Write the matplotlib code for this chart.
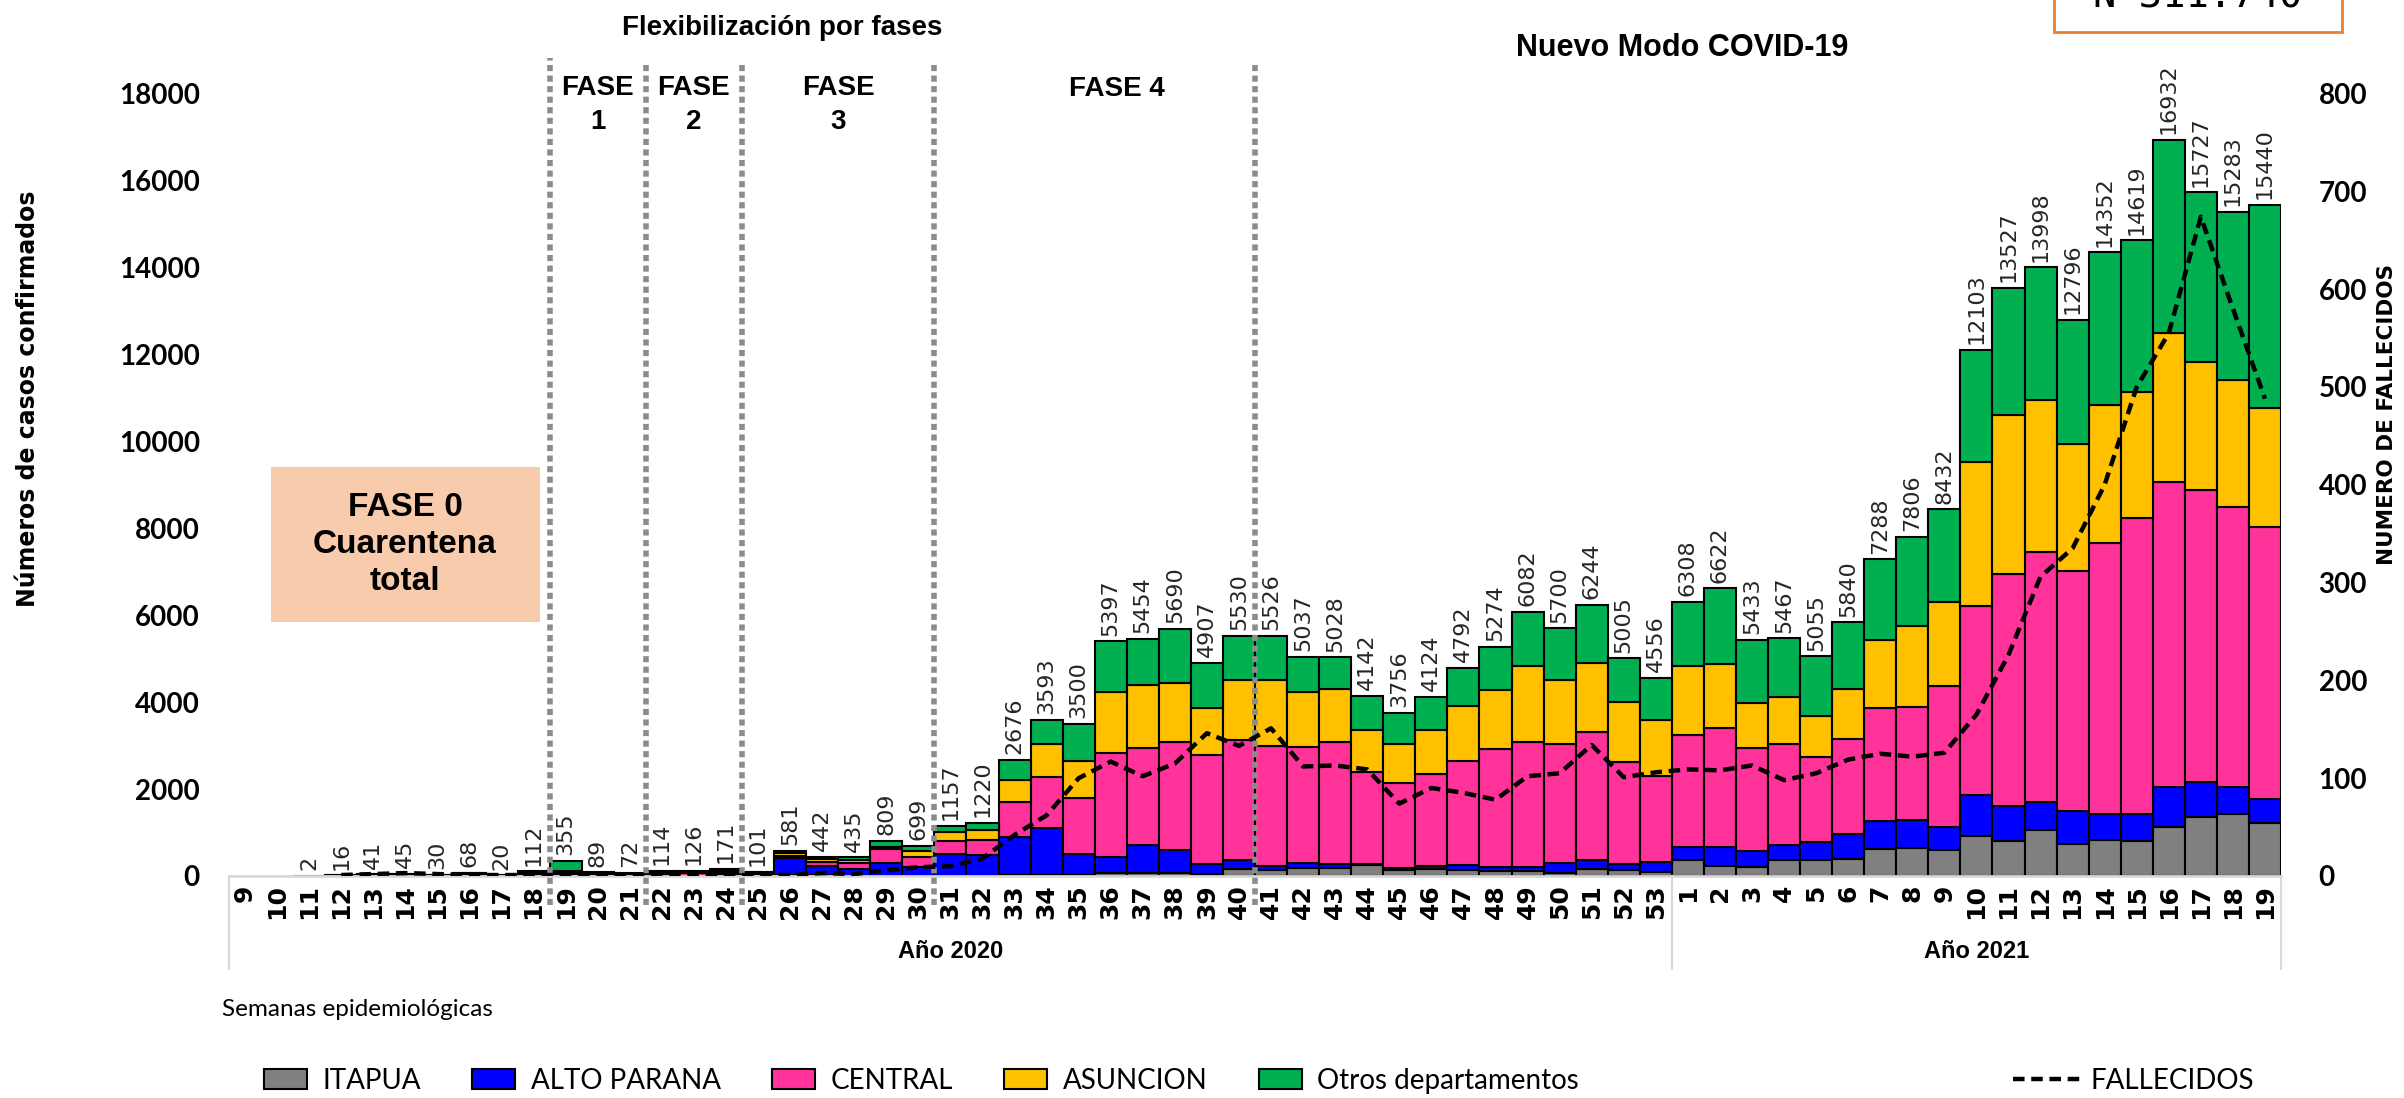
import matplotlib.pyplot as plt
import numpy as np
from matplotlib.patches import Patch, Rectangle
from matplotlib.lines import Line2D

# Semanas epidemiológicas (2020: 9-53, 2021: 1-19)
semanas = [9, 10, 11, 12, 13, 14, 15, 16, 17, 18, 19, 20, 21, 22, 23, 24, 25,
           26, 27, 28, 29, 30, 31, 32, 33, 34, 35, 36, 37, 38, 39, 40, 41, 42,
           43, 44, 45, 46, 47, 48, 49, 50, 51, 52, 53,
           1, 2, 3, 4, 5, 6, 7, 8, 9, 10, 11, 12, 13, 14, 15, 16, 17, 18, 19]

itapua = [0, 0, 0, 0, 1, 1, 0, 1, 0, 2, 5, 2, 1, 2, 2, 3, 2,
          13, 17, 5, 10, 5, 10, 10, 20, 20, 20, 60, 77, 77, 46, 153, 138, 176,
          192, 253, 138, 153, 138, 123, 123, 61, 153, 138, 100,
          359, 231, 214, 359, 359, 385, 616, 642, 590, 915, 804, 1069, 727, 830,
          804, 1129, 1360, 1429, 1215]
alto_parana = [0, 0, 0, 0, 1, 2, 1, 3, 1, 5, 10, 4, 4, 6, 8, 10, 10,
               398, 215, 150, 285, 194, 491, 468, 885, 1077, 486, 385, 636, 521,
               230, 215, 92, 131, 84, 23, 54, 77, 115, 76, 76, 230, 215, 130, 230,
               317, 428, 359, 343, 428, 573, 642, 641, 539, 941, 813, 633, 770,
               599, 625, 916, 796, 616, 556]
central = [0, 0, 2, 8, 20, 22, 14, 30, 10, 45, 60, 35, 30, 45, 50, 55, 40,
           60, 80, 140, 318, 239, 311, 358, 805, 1173, 1281, 2378, 2225, 2493,
           2508, 2761, 2761, 2669, 2815, 2125, 1940, 2109, 2393, 2716, 2892,
           2746, 2938, 2363, 1971,
           2566, 2754, 2370, 2326, 1942, 2199, 2609, 2601, 3234, 4355, 5330,
           5744, 5519, 6222, 6799, 7026, 6724, 6436, 6250]
asuncion = [0, 0, 0, 6, 14, 15, 10, 24, 6, 30, 40, 28, 22, 36, 40, 45, 30,
            50, 70, 70, 60, 143, 199, 223, 500, 760, 859, 1418, 1457, 1358,
            1074, 1381, 1519, 1265, 1204, 958, 898, 1020, 1266, 1365, 1749,
            1473, 1587, 1380, 1288,
            1592, 1455, 1027, 1095, 941, 1138, 1557, 1865, 1942, 3306, 3658,
            3504, 2915, 3184, 2913, 3413, 2937, 2929, 2738]
otros = [0, 0, 0, 2, 5, 5, 5, 10, 3, 30, 240, 20, 15, 25, 26, 58, 19,
         60, 60, 70, 136, 118, 146, 161, 466, 563, 854, 1156, 1059, 1241,
         1049, 1020, 1016, 796, 733, 783, 726, 765, 880, 994, 1242, 1190,
         1351, 994, 967,
         1474, 1754, 1463, 1344, 1385, 1545, 1864, 2057, 2127, 2586, 2922,
         3048, 2865, 3517, 3478, 4448, 3910, 3873, 4681]
totales = [0, 0, 2, 16, 41, 45, 30, 68, 20, 112, 355, 89, 72, 114, 126, 171, 101,
           581, 442, 435, 809, 699, 1157, 1220, 2676, 3593, 3500, 5397, 5454,
           5690, 4907, 5530, 5526, 5037, 5028, 4142, 3756, 4124, 4792, 5274,
           6082, 5700, 6244, 5005, 4556,
           6308, 6622, 5433, 5467, 5055, 5840, 7288, 7806, 8432, 12103, 13527,
           13998, 12796, 14352, 14619, 16932, 15727, 15283, 15440]
fallecidos = [np.nan, np.nan, np.nan, 1, 2, 3, 2, 1, 1, 1, 1, 1, 1, 1, 1, 1, 1,
              1, 3, 2, 6, 9, 10, 18, 42, 62, 100, 117, 102, 115, 146, 133, 151,
              112, 113, 109, 74, 90, 85, 78, 102, 105, 134, 101, 106,
              109, 108, 113, 98, 105, 119, 125, 122, 126, 165, 226, 306, 335,
              400, 500, 555, 674, 580, 488]

series = [
    (itapua, "#808080", "ITAPUA"),
    (alto_parana, "#0000FF", "ALTO PARANA"),
    (central, "#FF3399", "CENTRAL"),
    (asuncion, "#FFC000", "ASUNCION"),
    (otros, "#00B050", "Otros departamentos"),
]

# limites entre fases (entre semanas)
fases_x = [9.5, 12.5, 15.5, 21.5, 31.5]
corte_anio = 44.5

NARROW = ["Liberation Sans Narrow", "Liberation Sans", "DejaVu Sans"]
W, H = 2404, 1098

fig = plt.figure(figsize=(W / 100, H / 100), dpi=100)
ax = fig.add_axes([229 / W, 1 - 876 / H, 2052 / W, 782.5 / H])
ax2 = ax.twinx()

x = np.arange(len(semanas))
bottom = np.zeros(len(x))
for vals, color, name in series:
    v = np.array(vals, dtype=float)
    m = v > 0
    ax.bar(x[m], v[m], width=1.0, bottom=bottom[m], color=color,
           edgecolor="black", linewidth=1.5, zorder=2)
    bottom += v

for xi, tot in zip(x, totales):
    if tot > 0:
        ax.annotate(str(tot), (xi, tot), xytext=(0, 4), textcoords="offset points",
                    rotation=90, ha="center", va="bottom", fontsize=16,
                    color="#262626", family="DejaVu Sans")

ax.set_xlim(-0.5, len(x) - 0.5)
ax.set_ylim(0, 18000)
ax2.set_ylim(0, 800)

ax.set_yticks(np.arange(0, 18001, 2000))
ax.set_yticklabels([str(v) for v in range(0, 18001, 2000)],
                   fontfamily="Lato", fontweight="bold", fontsize=20)
ax2.set_yticks(np.arange(0, 801, 100))
ax2.set_yticklabels([str(v) for v in range(0, 801, 100)],
                    fontfamily="Lato", fontweight="bold", fontsize=20)
ax.set_xticks(x)
ax.set_xticklabels([str(s) for s in semanas], rotation=90, fontweight="bold",
                   fontsize=18, fontfamily="DejaVu Sans")
ax.tick_params(axis="y", length=0, pad=21)
ax.tick_params(axis="x", length=0, pad=6)
ax2.tick_params(axis="y", length=0, pad=27)

for s in ["left", "right", "top"]:
    ax.spines[s].set_visible(False)
ax.spines["bottom"].set_color("#D9D9D9")
ax.spines["bottom"].set_linewidth(2)
for s in ax2.spines.values():
    s.set_visible(False)

# separadores del eje de categorias
trans = ax.get_xaxis_transform()
for xs in [-0.5, corte_anio, len(x) - 0.5]:
    ax.plot([xs, xs], [0, -0.119], transform=trans, color="#D9D9D9", lw=1.5,
            clip_on=False)
ax.text(corte_anio / 2 - 0.25, -0.097, "Año 2020", transform=trans, ha="center",
        va="center", fontsize=17, fontweight="bold", family=NARROW)
ax.text((corte_anio + len(x) - 0.5) / 2, -0.097, "Año 2021", transform=trans,
        ha="center", va="center", fontsize=17, fontweight="bold", family=NARROW)

# fallecidos
ax2.plot(x, fallecidos, color="black", lw=3.2, linestyle=(0, (2.6, 1.5)), zorder=5)

# lineas de fases
tops = [18817, 18725, 18725, 18725, 18725]
for xf, top in zip(fases_x, tops):
    ax2.plot([xf, xf], [-667, top], transform=ax.transData, color="#8C8C8C",
             lw=4, linestyle=(0, (1.1, 0.8)), clip_on=False, zorder=4)

fase_txt = [(11, "FASE\n1"), (14, "FASE\n2"), (18.5, "FASE\n3")]
for xf, t in fase_txt:
    ax2.text(xf, 17740, t, transform=ax.transData, ha="center", va="center",
             fontsize=20, fontweight="bold", family=NARROW, linespacing=1.4)
ax2.text(27.2, 18105, "FASE 4", transform=ax.transData, ha="center",
         va="center", fontsize=20, fontweight="bold", family=NARROW)

# cuadro fase 0
fig.patches.append(Rectangle((271 / W, 1 - 622 / H), 269 / W, 155 / H,
                             transform=fig.transFigure, facecolor="#F8CBAD",
                             edgecolor="none", zorder=3))
fig.text(405 / W, 1 - 545 / H, "FASE 0\nCuarentena\ntotal", ha="center",
         va="center", fontsize=24, fontweight="bold", family=NARROW,
         linespacing=1.25, zorder=4)

# titulos
fig.text(782 / W, 1 - 28 / H, "Flexibilización por fases", ha="center",
         va="center", fontsize=20, fontweight="bold", family=NARROW)
fig.text(1682 / W, 1 - 48 / H, "Nuevo Modo COVID-19", ha="center",
         va="center", fontsize=22, fontweight="bold", family=NARROW)

# caja N
fig.patches.append(Rectangle((2054 / W, 1 - 32 / H), 288 / W, 60 / H,
                             transform=fig.transFigure, facecolor="white",
                             edgecolor="#ED7D31", lw=2, zorder=3))
fig.text(2198 / W, 1 - 8 / H, "N=311.740", ha="center", va="baseline",
         fontsize=28, family="DejaVu Sans Mono", zorder=4)

# etiquetas de ejes
fig.text(28 / W, 1 - 399 / H, "Números de casos confirmados", rotation=90,
         ha="center", va="center", fontsize=17, fontweight="bold")
fig.text(2387 / W, 1 - 414 / H, "NUMERO DE FALLECIDOS", rotation=90,
         ha="center", va="center", fontsize=15.5, fontweight="bold")
fig.text(222 / W, 1 - 1009 / H, "Semanas epidemiológicas", ha="left",
         va="center", fontsize=17.5, family="Lato")

# leyendas
handles = [Patch(facecolor=c, edgecolor="black", linewidth=1.5, label=n)
           for _, c, n in series]
fig.legend(handles=handles, ncol=5, loc="lower left",
           bbox_to_anchor=(264 / W, 4 / H), frameon=False,
           prop={"family": "Lato", "size": 20}, handlelength=1.55,
           handleheight=0.75, handletextpad=0.55, columnspacing=1.85,
           borderpad=0, borderaxespad=0)
fig.legend(handles=[Line2D([], [], color="black", lw=3.2,
                           linestyle=(0, (2.6, 1.5)), label="FALLECIDOS")],
           loc="lower left", bbox_to_anchor=(2013 / W, 4 / H), frameon=False,
           prop={"family": "Lato", "size": 20}, handlelength=2.6,
           handletextpad=0.2, borderpad=0, borderaxespad=0)

fig.savefig("out.png", dpi=100)
